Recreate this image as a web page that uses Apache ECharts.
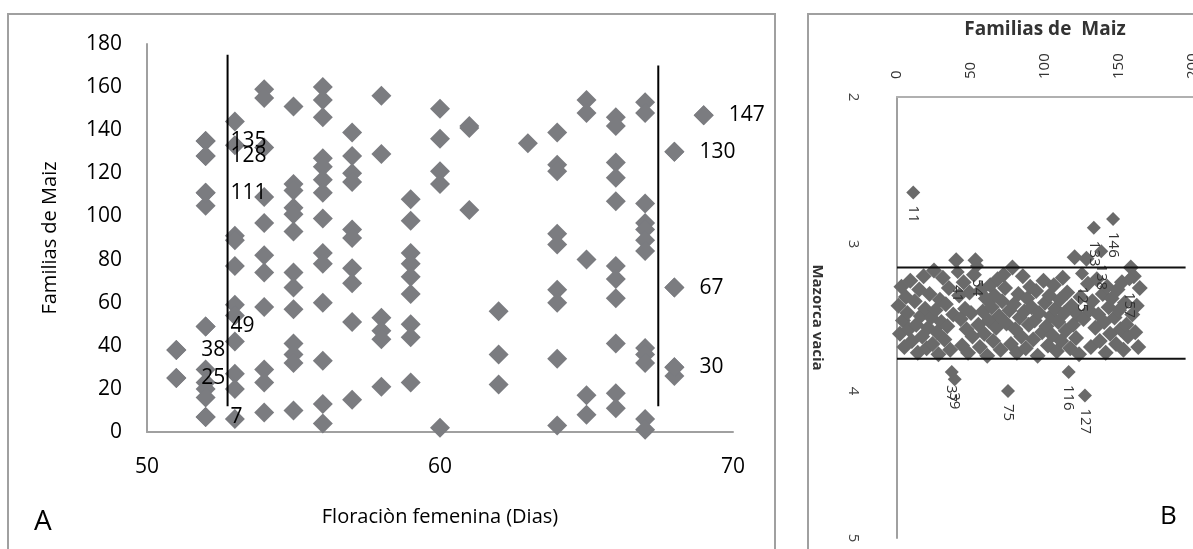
<!DOCTYPE html>
<html>
<head>
<meta charset="utf-8">
<title>Floracion femenina / Mazorca vacia</title>
<script src="https://cdn.jsdelivr.net/npm/echarts@6/dist/echarts.min.js"></script>
<style>
  html, body { margin: 0; padding: 0; background: #fff; }
  #main { width: 1193px; height: 549px; }
</style>
</head>
<body>
<div id="main"></div>
<script>
// ---- Panel A: floracion femenina (dias) vs familia ----
var floracionPoints = [
    [51, 38], [51, 25],
    [52, 135], [52, 128], [52, 111], [52, 105], [52, 49], [52, 29], [52, 23], [52, 20], [52, 16], [52, 7],
    [53, 144], [53, 133], [53, 91], [53, 89], [53, 77], [53, 59], [53, 54], [53, 42], [53, 27], [53, 20], [53, 6],
    [54, 159], [54, 155], [54, 132], [54, 109], [54, 97], [54, 82], [54, 74], [54, 58], [54, 29], [54, 23], [54, 9],
    [55, 151], [55, 115], [55, 112], [55, 104], [55, 101], [55, 93], [55, 74], [55, 67], [55, 57], [55, 41], [55, 36], [55, 32], [55, 10],
    [56, 160], [56, 154], [56, 146], [56, 127], [56, 123], [56, 117], [56, 111], [56, 99], [56, 83], [56, 78], [56, 60], [56, 33], [56, 13], [56, 4],
    [57, 139], [57, 128], [57, 120], [57, 116], [57, 94], [57, 90], [57, 76], [57, 69], [57, 51], [57, 15],
    [58, 156], [58, 129], [58, 53], [58, 47], [58, 43], [58, 21],
    [59, 108], [59, 98], [59, 83], [59, 78], [59, 72], [59, 64], [59, 50], [59, 44], [59, 23],
    [60, 150], [60, 136], [60, 121], [60, 115], [60, 2],
    [61, 142], [61, 141], [61, 103],
    [62, 56], [62, 36], [62, 22],
    [63, 134],
    [64, 139], [64, 124], [64, 121], [64, 92], [64, 87], [64, 66], [64, 60], [64, 34], [64, 3],
    [65, 154], [65, 148], [65, 80], [65, 17], [65, 8],
    [66, 146], [66, 142], [66, 125], [66, 118], [66, 107], [66, 77], [66, 71], [66, 62], [66, 41], [66, 18], [66, 11],
    [67, 153], [67, 148], [67, 106], [67, 97], [67, 94], [67, 89], [67, 84], [67, 39], [67, 36], [67, 32], [67, 6], [67, 1],
    [68, 130], [68, 67], [68, 30], [68, 26],
    [69, 147]
];
// puntos con etiqueta (la etiqueta es la familia)
var floracionLabeled = [
    [51, 38], [51, 25], [52, 135], [52, 128], [52, 111], [52, 49], [52, 7],
    [68, 130], [68, 67], [68, 30], [69, 147]
];
// lineas de corte verticales
var corteIzq = [[52.75, 175], [52.75, 12]];
var corteDer = [[67.45, 170], [67.45, 12]];

// ---- Panel B: familia vs mazorca vacia ----
var vaciaPoints = [
    [1, 3.42], [2, 3.61], [3, 3.29], [4, 3.52], [5, 3.70], [6, 3.36], [7, 3.47], [8, 3.58], [9, 3.25], [10, 3.66],
    [12, 3.39], [13, 3.55], [14, 3.74], [15, 3.31], [16, 3.49], [17, 3.63], [18, 3.22], [19, 3.44], [20, 3.71], [21, 3.57],
    [22, 3.34], [23, 3.50], [24, 3.68], [25, 3.18], [26, 3.45], [27, 3.60], [28, 3.75], [29, 3.38], [30, 3.53], [31, 3.23],
    [32, 3.65], [33, 3.41], [34, 3.56], [35, 3.30], [36, 3.72], [38, 3.48], [40, 3.11], [42, 3.35], [43, 3.51], [44, 3.69],
    [45, 3.26], [46, 3.44], [47, 3.58], [48, 3.74], [49, 3.33], [50, 3.47], [51, 3.63], [52, 3.21], [53, 3.11], [55, 3.55],
    [56, 3.70], [57, 3.31], [58, 3.46], [59, 3.61], [60, 3.37], [61, 3.76], [62, 3.52], [63, 3.28], [64, 3.43], [65, 3.66],
    [66, 3.35], [67, 3.57], [68, 3.24], [69, 3.49], [70, 3.72], [71, 3.39], [72, 3.21], [73, 3.30], [74, 3.54], [76, 3.45],
    [77, 3.68], [78, 3.16], [79, 3.41], [80, 3.58], [81, 3.74], [82, 3.34], [83, 3.50], [84, 3.63], [85, 3.22], [86, 3.46],
    [87, 3.71], [88, 3.37], [89, 3.55], [90, 3.29], [91, 3.43], [92, 3.65], [93, 3.52], [94, 3.32], [95, 3.76], [96, 3.47],
    [98, 3.60], [99, 3.25], [100, 3.40], [101, 3.56], [102, 3.69], [103, 3.35], [104, 3.49], [105, 3.62], [106, 3.28], [107, 3.44],
    [108, 3.73], [109, 3.53], [110, 3.38], [111, 3.66], [112, 3.23], [113, 3.47], [114, 3.59], [115, 3.33], [117, 3.71], [118, 3.42],
    [119, 3.55], [120, 3.09], [121, 3.64], [122, 3.48], [123, 3.75], [124, 3.36], [126, 3.51], [128, 3.10], [129, 3.27], [130, 3.45],
    [131, 3.70], [132, 3.39], [134, 3.57], [135, 3.24], [136, 3.48], [137, 3.66], [139, 3.34], [140, 3.53], [141, 3.74], [142, 3.29],
    [143, 3.43], [144, 3.61], [145, 3.37], [147, 3.50], [148, 3.68], [149, 3.31], [150, 3.45], [151, 3.58], [152, 3.26], [153, 3.72],
    [154, 3.40], [155, 3.55], [156, 3.63], [158, 3.16], [159, 3.48], [160, 3.22], [161, 3.60], [162, 3.42], [163, 3.70], [164, 3.30]
];
var vaciaLabeled = [
    [11, 2.65], [41, 3.19], [54, 3.15], [125, 3.20], [133, 2.89], [146, 2.83], [138, 3.05], [157, 3.24],
    [37, 3.87], [39, 3.92], [75, 4.00], [116, 3.87], [127, 4.03]
];
var limiteSup = [[0, 3.16], [195, 3.16]];
var limiteInf = [[0, 3.78], [195, 3.78]];

var fuente = 'Open Sans';
var gris = '#7b7c80';

var option = {
    animation: false,
    textStyle: { fontFamily: fuente },
    graphic: [
        { type: 'rect', shape: { x: 8, y: 14, width: 767, height: 560 }, style: { fill: 'none', stroke: '#a0a0a0', lineWidth: 2 } },
        { type: 'rect', shape: { x: 808, y: 14, width: 420, height: 560 }, style: { fill: 'none', stroke: '#a0a0a0', lineWidth: 2 } },
        { type: 'text', left: 34, top: 508, style: { text: 'A', fontSize: 28, fontFamily: fuente, fill: '#000' } },
        { type: 'text', left: 1160, top: 504, style: { text: 'B', fontSize: 26, fontFamily: fuente, fill: '#000' } }
    ],
    grid: [
        { left: 147, top: 44, width: 586, height: 388, outerBoundsMode: 'none' },
        { left: 897, top: 97, width: 296, height: 441, outerBoundsMode: 'none' }
    ],
    xAxis: [
        {
            gridIndex: 0, type: 'value', min: 50, max: 70, interval: 10,
            name: 'Floraciòn femenina (Dias)', nameLocation: 'middle', nameGap: 75,
            nameTextStyle: { fontSize: 20, color: '#000', fontFamily: fuente },
            axisLine: { lineStyle: { color: '#a0a0a0', width: 2 } },
            axisTick: { show: false },
            splitLine: { show: false },
            axisLabel: { fontSize: 21, color: '#000', margin: 25, fontFamily: fuente }
        },
        {
            gridIndex: 1, type: 'value', min: 0, max: 200, interval: 50, position: 'top',
            name: 'Familias de  Maiz', nameLocation: 'middle', nameGap: 58,
            nameTextStyle: { fontSize: 19, fontWeight: 'bold', color: '#333', fontFamily: fuente },
            axisLine: { onZero: false, lineStyle: { color: '#b0b0b0', width: 2 } },
            axisTick: { show: false },
            splitLine: { show: false },
            axisLabel: { fontSize: 15, color: '#333', margin: 18, rotate: -90, fontFamily: fuente }
        }
    ],
    yAxis: [
        {
            gridIndex: 0, type: 'value', min: 0, max: 180, interval: 20,
            name: 'Familias de Maiz', nameLocation: 'middle', nameGap: 87,
            nameTextStyle: { fontSize: 20, color: '#000', fontFamily: fuente },
            axisLine: { show: true, lineStyle: { color: '#a0a0a0', width: 2 } },
            axisTick: { show: false },
            splitLine: { show: false },
            axisLabel: { fontSize: 21, color: '#000', margin: 25, fontFamily: fuente }
        },
        {
            gridIndex: 1, type: 'value', min: 2, max: 5, interval: 1, inverse: true,
            name: 'Mazorca vacia', nameLocation: 'middle', nameGap: 72, nameRotate: -90,
            nameTextStyle: { fontSize: 15, fontWeight: 'bold', color: '#333', fontFamily: fuente },
            axisLine: { show: true, onZero: false, lineStyle: { color: '#a0a0a0', width: 2 } },
            axisTick: { show: false },
            splitLine: { show: false },
            axisLabel: { fontSize: 15, color: '#444', margin: 36, rotate: -90, fontFamily: fuente }
        }
    ],
    series: [
        {
            type: 'scatter', xAxisIndex: 0, yAxisIndex: 0,
            symbol: 'diamond', symbolSize: 20,
            itemStyle: { color: gris, opacity: 1 },
            data: floracionPoints
        },
        {
            type: 'scatter', xAxisIndex: 0, yAxisIndex: 0,
            symbol: 'diamond', symbolSize: 20,
            itemStyle: { color: gris, opacity: 1 },
            label: {
                show: true, position: 'right', distance: 15,
                fontSize: 21, color: '#000', fontFamily: fuente,
                formatter: function (p) { return p.value[1]; }
            },
            data: floracionLabeled
        },
        {
            type: 'line', xAxisIndex: 0, yAxisIndex: 0, symbol: 'none',
            lineStyle: { color: '#000', width: 2 }, data: corteIzq
        },
        {
            type: 'line', xAxisIndex: 0, yAxisIndex: 0, symbol: 'none',
            lineStyle: { color: '#000', width: 2 }, data: corteDer
        },
        {
            type: 'scatter', xAxisIndex: 1, yAxisIndex: 1,
            symbol: 'diamond', symbolSize: 16,
            itemStyle: { color: '#6a6a6a', opacity: 1 },
            data: vaciaPoints
        },
        {
            type: 'scatter', xAxisIndex: 1, yAxisIndex: 1,
            symbol: 'diamond', symbolSize: 14,
            itemStyle: { color: '#6a6a6a', opacity: 1 },
            label: {
                show: true, position: 'bottom', distance: 6, rotate: -90,
                align: 'left', verticalAlign: 'middle',
                fontSize: 15, color: '#333', fontFamily: fuente,
                formatter: function (p) { return p.value[0]; }
            },
            data: vaciaLabeled
        },
        {
            type: 'line', xAxisIndex: 1, yAxisIndex: 1, symbol: 'none',
            lineStyle: { color: '#111', width: 2 }, data: limiteSup
        },
        {
            type: 'line', xAxisIndex: 1, yAxisIndex: 1, symbol: 'none',
            lineStyle: { color: '#111', width: 2 }, data: limiteInf
        }
    ]
};

var myChart = echarts.init(document.getElementById('main'));
myChart.setOption(option);
</script>
</body>
</html>
